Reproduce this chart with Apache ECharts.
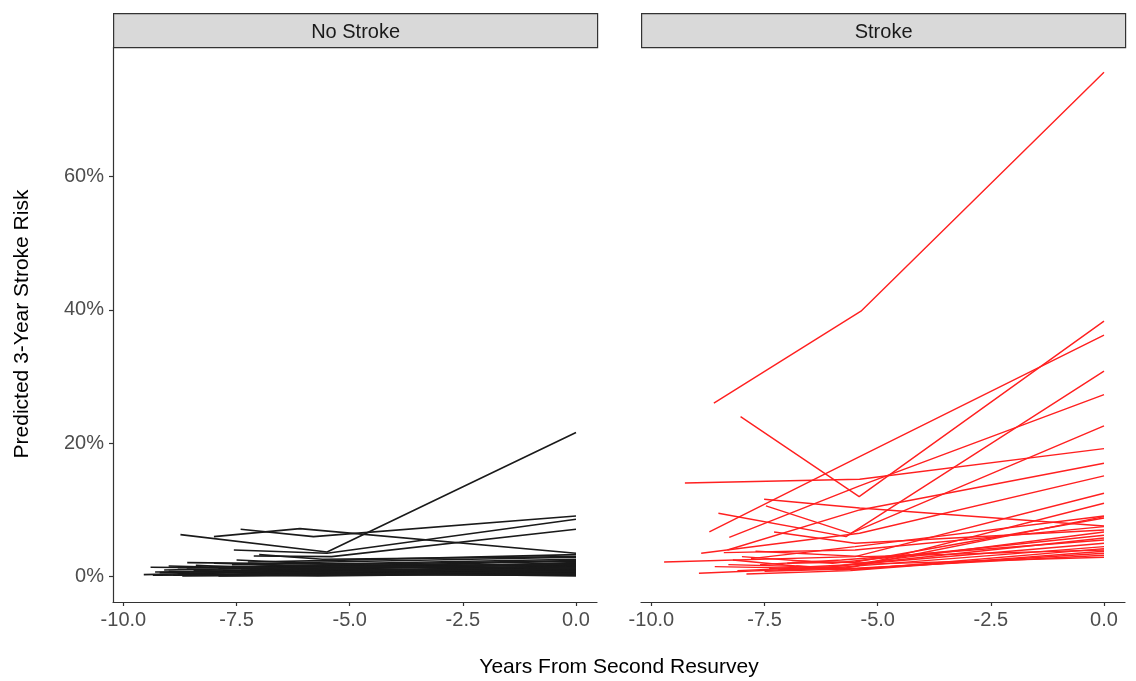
<!DOCTYPE html>
<html>
<head>
<meta charset="utf-8">
<script src="https://cdn.jsdelivr.net/npm/echarts@6/dist/echarts.min.js"></script>
<style>
  html, body { margin: 0; padding: 0; background: #fff; }
  #chart { width: 1136px; height: 681px; }
</style>
</head>
<body>
<div id="chart"></div>
<script>
// ---------- DATA ----------
const panelTitles = ['No Stroke', 'Stroke'];
const xTickValues = [-10, -7.5, -5, -2.5, 0];
const yTickValues = [0, 20, 40, 60];
const secondResurveyYear = 0;

// No Stroke participants (risk in %)
const noStrokeBaselineYear = [-8.74, -7.41, -8.0, -7.56, -7.12, -7.0, -9.55, -9.4, -8.59, -8.1, -9.0, -8.3, -7.8, -7.6, -9.2, -8.8, -7.3, -8.9, -7.9, -7.1, -8.4, -9.1, -6.9, -8.2, -7.5, -8.7, -6.8, -7.7, -8.6, -7.2,
  -9.3, -8.5, -7.9, -8.0, -7.4, -9.0, -8.2, -7.0, -8.8, -7.6, -8.45, -7.25, -9.35, -6.95];
const noStrokeBaselineRisk = [6.3, 7.1, 6.0, 4.0, 3.1, 3.3, 0.3, 1.4, 2.1, 1.5, 0.8, 0.4, 0.9, 1.8, 0.6, 1.1, 0.5, 0.2, 1.2, 0.2, 1.7, 1.0, 1.4, 0.7, 2.5, 0.1, 0.8, 0.3, 1.3, 1.9,
  0.7, 0.5, 0.1, 2.0, 1.0, 1.6, 0.2, 0.6, 0.4, 1.4, 0.9, 2.2, 0.2, 1.1];
const noStrokeResurvey1Year = [-5.5, -5.8, -6.1, -5.5, -5.4, -5.6, -6.0, -5.8, -5.6, -5.3, -5.9, -6.2, -5.7, -5.5, -5.8, -6.1, -5.4, -5.6, -5.9, -5.3, -5.7, -6.0, -5.5, -5.2, -5.9, -5.6, -5.3, -5.8, -6.2, -5.4,
  -5.9, -5.5, -5.7, -5.6, -5.4, -6.0, -5.8, -5.5, -5.7, -5.3, -6.1, -5.6, -6.0, -5.35];
const noStrokeResurvey1Risk = [3.7, 6.0, 7.2, 3.5, 3.0, 2.6, 0.8, 1.2, 1.9, 1.6, 0.5, 0.3, 1.3, 2.2, 1.0, 0.8, 0.7, 0.4, 1.5, 0.3, 0.9, 1.4, 1.0, 1.1, 2.0, 0.2, 1.8, 0.6, 1.7, 1.3,
  0.9, 1.0, 0.2, 1.6, 0.5, 1.1, 0.8, 0.4, 0.1, 1.2, 0.6, 2.4, 0.3, 1.5];
const noStrokeResurvey2Risk = [21.6, 9.1, 3.5, 8.6, 7.1, 3.0, 1.0, 2.0, 2.6, 1.8, 0.6, 0.2, 1.5, 2.9, 1.2, 0.4, 0.9, 1.3, 2.3, 0.5, 0.3, 1.7, 0.8, 2.1, 1.6, 0.7, 1.1, 0.1, 2.4, 1.9,
  0.3, 1.4, 0.6, 1.0, 0.2, 0.9, 1.2, 0.3, 0.5, 0.7, 1.6, 3.3, 0.8, 1.4];

// Stroke participants (risk in %)
const strokeBaselineYear = [-8.62, -8.03, -8.72, -9.26, -8.28, -7.51, -8.52, -7.47, -8.32, -8.9, -9.72, -8.95, -7.8, -7.29, -8.0, -7.6, -8.6, -8.2, -7.4, -8.1, -7.0, -8.4, -7.7, -7.2, -6.9,
  -7.5, -6.8, -8.3, -7.9];
const strokeBaselineRisk = [26.0, 24.0, 6.7, 14.05, 5.9, 11.6, 9.5, 10.6, 4.0, 3.5, 2.2, 0.5, 2.7, 6.7, 3.0, 1.8, 1.5, 2.5, 1.2, 0.9, 2.0, 3.6, 3.8, 1.0, 2.4,
  0.8, 1.6, 1.8, 0.4];
const strokeResurvey1Year = [-5.37, -5.41, -5.4, -5.4, -5.4, -5.4, -5.7, -5.6, -5.4, -5.4, -5.5, -5.5, -5.5, -5.5, -6.0, -5.8, -6.2, -5.9, -5.6, -6.0, -5.5, -5.5, -5.3, -5.7, -5.2,
  -5.9, -5.4, -6.1, -5.6];
const strokeResurvey1Risk = [39.8, 12.0, 18.0, 14.6, 13.6, 10.3, 6.0, 6.5, 10.0, 6.5, 3.0, 1.5, 4.5, 5.0, 2.0, 2.5, 1.2, 1.0, 1.8, 1.5, 2.2, 4.0, 3.0, 1.3, 2.0,
  1.1, 1.1, 1.4, 0.9];
const strokeResurvey2Risk = [75.6, 38.3, 36.2, 19.2, 27.3, 7.6, 30.8, 22.6, 17.0, 15.1, 12.5, 11.0, 9.1, 7.0, 6.2, 5.5, 4.5, 3.5, 2.9, 6.7, 8.8, 7.5, 4.0, 9.0, 5.0,
  3.2, 4.2, 5.8, 3.8];

// ---------- LAYOUT ----------
const FONT = '"Liberation Sans", Arial, sans-serif';
const panelTop = 47, panelHeight = 555, panelWidth = 484;
const panelLefts = [113, 641];
const stripTop = 13, stripHeight = 34;

function makeSeries(bx, br, mx, mr, er, gridIdx, color, width) {
  return bx.map((_, i) => ({
    type: 'line',
    xAxisIndex: gridIdx,
    yAxisIndex: gridIdx,
    data: [[bx[i], br[i]], [mx[i], mr[i]], [secondResurveyYear, er[i]]],
    symbol: 'none',
    silent: true,
    animation: false,
    lineStyle: { color: color, width: width },
    z: 2
  }));
}

const series = [].concat(
  makeSeries(noStrokeBaselineYear, noStrokeBaselineRisk, noStrokeResurvey1Year, noStrokeResurvey1Risk, noStrokeResurvey2Risk, 0, '#1a1a1a', 1.6),
  makeSeries(strokeBaselineYear, strokeBaselineRisk, strokeResurvey1Year, strokeResurvey1Risk, strokeResurvey2Risk, 1, '#ff2020', 1.4)
);

function xAxisDef(gridIndex) {
  return {
    type: 'value', gridIndex: gridIndex,
    min: -10.23, max: 0.464,
    axisLine: { show: true, onZero: false, lineStyle: { color: '#333333', width: 1.2 } },
    axisTick: { show: true, length: 4, customValues: xTickValues, lineStyle: { color: '#333333', width: 1.2 } },
    axisLabel: { show: true, customValues: xTickValues, margin: 8, color: '#4d4d4d', fontSize: 20, fontFamily: FONT,
      formatter: v => v.toFixed(1) },
    splitLine: { show: false }
  };
}

const option = {
  backgroundColor: '#ffffff',
  animation: false,
  grid: panelLefts.map(l => ({ left: l, top: panelTop, width: panelWidth, height: panelHeight, containLabel: false })),
  xAxis: [xAxisDef(0), xAxisDef(1)],
  yAxis: [
    {
      type: 'value', gridIndex: 0, min: -3.8, max: 79.4,
      axisLine: { show: true, onZero: false, lineStyle: { color: '#333333', width: 1.2 } },
      axisTick: { show: true, length: 4, customValues: yTickValues, lineStyle: { color: '#333333', width: 1.2 } },
      axisLabel: { show: true, customValues: yTickValues, margin: 9, color: '#4d4d4d', fontSize: 20, fontFamily: FONT,
        formatter: v => v + '%' },
      splitLine: { show: false }
    },
    {
      type: 'value', gridIndex: 1, min: -3.8, max: 79.4,
      axisLine: { show: false }, axisTick: { show: false }, axisLabel: { show: false },
      splitLine: { show: false }
    }
  ],
  graphic: [
    ...panelLefts.map((l, i) => ({
      type: 'group', left: l, top: stripTop, silent: true,
      children: [
        { type: 'rect', shape: { x: 0, y: 0, width: panelWidth, height: stripHeight },
          style: { fill: '#d9d9d9', stroke: '#333333', lineWidth: 1.2 } },
        { type: 'text', x: panelWidth / 2, y: stripHeight / 2 + 2,
          style: { text: panelTitles[i], align: 'center', verticalAlign: 'middle', fill: '#1a1a1a', fontSize: 20, fontFamily: FONT } }
      ]
    })),
    { type: 'text', x: 22, y: 324, rotation: Math.PI / 2, silent: true,
      style: { text: 'Predicted 3-Year Stroke Risk', align: 'center', verticalAlign: 'middle', fill: '#000000', fontSize: 21, fontFamily: FONT } },
    { type: 'text', x: 619, y: 667, silent: true,
      style: { text: 'Years From Second Resurvey', align: 'center', verticalAlign: 'middle', fill: '#000000', fontSize: 21, fontFamily: FONT } }
  ],
  series: series
};

const chart = echarts.init(document.getElementById('chart'), null, { renderer: 'canvas' });
chart.setOption(option);
</script>
</body>
</html>
